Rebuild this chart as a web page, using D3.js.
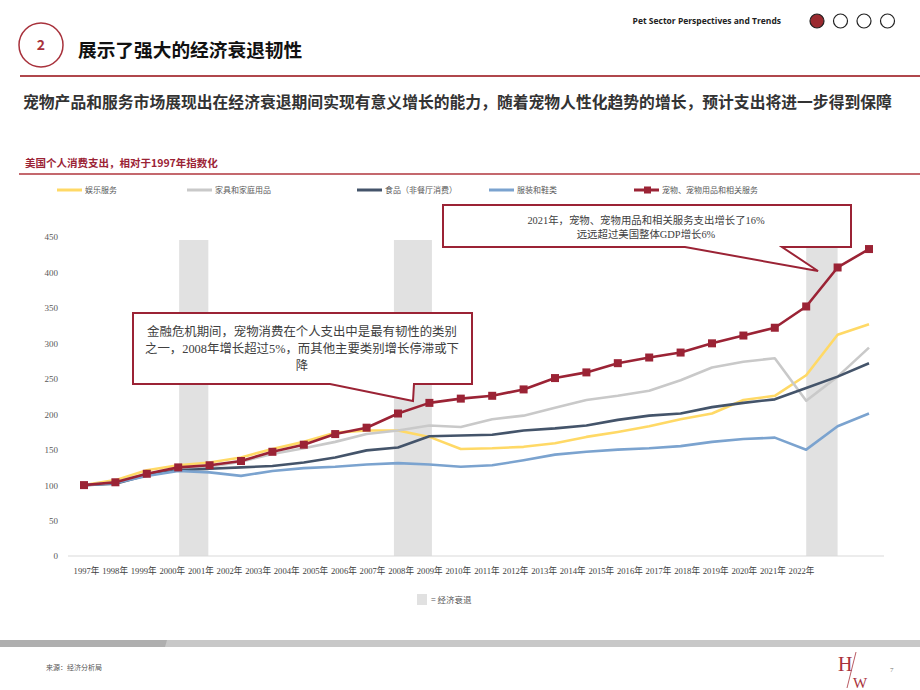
<!DOCTYPE html>
<html>
<head>
<meta charset="utf-8">
<script src="https://cdn.jsdelivr.net/npm/d3@7"></script>
<style>
  body { margin: 0; background: #fff; }
  svg { display: block; }
</style>
</head>
<body>
<div id="chart"></div>
<script>
var width = 920,
    height = 690;

// data, index 1997 = 100
var years = d3.range(1997, 2023);
var entertainment = [100,107,121,128,132,139,151,161,174,177,177,168,151,152,154,159,168,175,183,193,201,220,226,255,312,327];
var furnishings   = [100,104,116,122,126,133,144,152,161,172,177,184,182,193,198,209,220,226,233,248,266,274,279,219,253,294];
var food          = [100,102,114,121,123,125,127,132,139,149,153,169,170,171,177,180,184,192,198,201,210,216,221,237,253,272];
var clothing      = [100,103,113,120,118,113,120,124,126,129,131,129,126,128,135,143,147,150,152,155,161,165,167,150,183,201];
var pet           = [100,104,116,125,128,134,147,157,172,181,201,216,222,226,235,251,259,272,280,287,300,311,322,352,407,433];

var seriesNames = ["娱乐服务", "家具和家庭用品", "食品（非餐厅消费）", "服装和鞋类", "宠物、宠物用品和相关服务"];
var seriesColors = ["#FFD966", "#C9C9C9", "#44546A", "#7BA3CF", "#9B2335"];
var seriesValues = [entertainment, furnishings, food, clothing, pet];

var recessionStart = [2000.03, 2006.87, 2020.0];
var recessionEnd   = [2000.96, 2008.08, 2021.0];

var yTicks = [0, 50, 100, 150, 200, 250, 300, 350, 400, 450];

var red = "#9B2335";
var serif = "'Liberation Serif', 'Noto Sans CJK SC', serif";
var sans = "'Noto Sans CJK SC', 'Noto Sans', sans-serif";

var svg = d3.select("#chart")
  .append("svg")
    .attr("width", width)
    .attr("height", height);

// ---- header ----
svg.append("circle")
  .attr("cx", 41).attr("cy", 45).attr("r", 22)
  .attr("fill", "none").attr("stroke", "#A8323C").attr("stroke-width", 1.5);
svg.append("text")
  .attr("x", 41).attr("y", 50)
  .attr("text-anchor", "middle")
  .style("font-family", sans).style("font-weight", "bold").style("font-size", "14px")
  .attr("fill", "#A8323C")
  .text("2");
svg.append("text")
  .attr("x", 78).attr("y", 57)
  .style("font-family", sans).style("font-weight", "bold").style("font-size", "18.7px")
  .attr("fill", "#111")
  .text("展示了强大的经济衰退韧性");
svg.append("line")
  .attr("x1", 20).attr("x2", 920).attr("y1", 76).attr("y2", 76)
  .attr("stroke", "#B0474C").attr("stroke-width", 2);

svg.append("text")
  .attr("x", 781).attr("y", 24)
  .attr("text-anchor", "end")
  .style("font-family", "'Open Sans', 'Noto Sans', sans-serif").style("font-weight", "bold").style("font-size", "8.5px")
  .attr("fill", "#222")
  .text("Pet Sector Perspectives and Trends");
svg.selectAll("circle.page")
  .data([0, 1, 2, 3])
  .enter()
  .append("circle")
    .attr("class", "page")
    .attr("cx", function(d) { return 817 + d * 23.5; })
    .attr("cy", 21)
    .attr("r", 7)
    .attr("fill", function(d) { return d === 0 ? "#9B2A30" : "#fff"; })
    .attr("stroke", "#222")
    .attr("stroke-width", 1.2);

svg.append("text")
  .attr("x", 23).attr("y", 108)
  .style("font-family", sans).style("font-weight", "bold").style("font-size", "15.8px")
  .attr("fill", "#333")
  .text("宠物产品和服务市场展现出在经济衰退期间实现有意义增长的能力，随着宠物人性化趋势的增长，预计支出将进一步得到保障");

// chart title
svg.append("text")
  .attr("x", 25).attr("y", 167)
  .style("font-family", sans).style("font-weight", "bold").style("font-size", "10.5px")
  .attr("fill", red)
  .text("美国个人消费支出，相对于1997年指数化");
svg.append("line")
  .attr("x1", 19).attr("x2", 920).attr("y1", 174).attr("y2", 174)
  .attr("stroke", "#B0363D").attr("stroke-width", 1.5);

// ---- legend ----
var legendX = [57, 187, 357, 489, 634];
var legend = svg.selectAll("g.legend")
  .data(seriesNames)
  .enter()
  .append("g")
    .attr("class", "legend")
    .attr("transform", function(d, i) { return "translate(" + legendX[i] + ",190)"; });
legend.append("line")
  .attr("x1", 0).attr("x2", 25)
  .attr("stroke", function(d, i) { return seriesColors[i]; })
  .attr("stroke-width", 3);
legend.filter(function(d, i) { return i === 4; })
  .append("rect")
    .attr("x", 10).attr("y", -3.5).attr("width", 7).attr("height", 7)
    .attr("fill", red);
legend.append("text")
  .attr("x", 28).attr("y", 3)
  .style("font-family", sans).style("font-size", "8px")
  .attr("fill", "#595959")
  .text(function(d) { return d; });

// ---- scales ----
var x = d3.scaleLinear().domain([1997, 2022]).range([84, 869]);
var y = d3.scaleLinear().domain([0, 450]).range([556, 237]);
// tick labels sit on their own, tighter spacing as in the source slide
var xLabel = d3.scalePoint().domain(years).range([86, 801]);

// recession bands
svg.selectAll("rect.recession")
  .data(recessionStart)
  .enter()
  .append("rect")
    .attr("class", "recession")
    .attr("x", function(d) { return x(d); })
    .attr("width", function(d, i) { return x(recessionEnd[i]) - x(d); })
    .attr("y", 240)
    .attr("height", y(0) - 240)
    .attr("fill", "#E1E1E1");

// baseline
svg.append("line")
  .attr("x1", 68).attr("x2", 884)
  .attr("y1", y(0)).attr("y2", y(0))
  .attr("stroke", "#D9D9D9").attr("stroke-width", 1);

// y axis
var yAxis = svg.append("g")
  .attr("transform", "translate(60,0)")
  .call(d3.axisLeft(y).tickValues(yTicks).tickSize(0).tickPadding(2));
yAxis.select(".domain").remove();
yAxis.selectAll("text")
  .style("font-family", serif).style("font-size", "9px")
  .attr("fill", "#595959");

// x axis labels
var xAxis = svg.append("g")
  .attr("transform", "translate(0,568)")
  .call(d3.axisBottom(xLabel).tickSize(0).tickPadding(0).tickFormat(function(d) { return d + "年"; }));
xAxis.select(".domain").remove();
xAxis.selectAll("text")
  .style("font-family", serif).style("font-size", "8.6px")
  .attr("fill", "#404040");

// ---- lines ----
var line = d3.line()
  .x(function(d, i) { return x(years[i]); })
  .y(function(d) { return y(d); });

svg.selectAll("path.series")
  .data(seriesValues)
  .enter()
  .append("path")
    .attr("class", "series")
    .attr("d", line)
    .attr("fill", "none")
    .attr("stroke", function(d, i) { return seriesColors[i]; })
    .attr("stroke-width", 2.6)
    .attr("stroke-linejoin", "round");

svg.selectAll("rect.marker")
  .data(pet)
  .enter()
  .append("rect")
    .attr("class", "marker")
    .attr("x", function(d, i) { return x(years[i]) - 4; })
    .attr("y", function(d) { return y(d) - 4; })
    .attr("width", 8).attr("height", 8)
    .attr("fill", red);

// ---- callouts ----
svg.append("path")
  .attr("d", "M133,313 H472 V384 H414 L413,401 L330,384 H133 Z")
  .attr("fill", "#fff").attr("stroke", red).attr("stroke-width", 2);
var note1 = ["金融危机期间，宠物消费在个人支出中是最有韧性的类别",
             "之一，2008年增长超过5%，而其他主要类别增长停滞或下",
             "降"];
svg.selectAll("text.note1")
  .data(note1)
  .enter()
  .append("text")
    .attr("class", "note1")
    .attr("x", 302)
    .attr("y", function(d, i) { return 336 + i * 17; })
    .attr("text-anchor", "middle")
    .style("font-family", serif).style("font-size", "12.4px")
    .attr("fill", "#404040")
    .text(function(d) { return d; });

svg.append("path")
  .attr("d", "M443,205 H851 V247 H782 L818,271 L685,247 H443 Z")
  .attr("fill", "#fff").attr("stroke", red).attr("stroke-width", 2);
var note2 = ["2021年，宠物、宠物用品和相关服务支出增长了16%",
             "远远超过美国整体GDP增长6%"];
svg.selectAll("text.note2")
  .data(note2)
  .enter()
  .append("text")
    .attr("class", "note2")
    .attr("x", 646)
    .attr("y", function(d, i) { return 224 + i * 14; })
    .attr("text-anchor", "middle")
    .style("font-family", serif).style("font-size", "10.4px")
    .attr("fill", "#404040")
    .text(function(d) { return d; });

// recession key
svg.append("rect")
  .attr("x", 417).attr("y", 594).attr("width", 10).attr("height", 11)
  .attr("fill", "#E1E1E1");
svg.append("text")
  .attr("x", 431).attr("y", 603)
  .style("font-family", sans).style("font-size", "8.5px")
  .attr("fill", "#595959")
  .text("= 经济衰退");

// ---- footer ----
svg.append("rect")
  .attr("x", 0).attr("y", 640).attr("width", 920).attr("height", 7)
  .attr("fill", "#C8C8C8");
svg.append("path")
  .attr("d", "M0,640 H167 L165,647 H0 Z")
  .attr("fill", "#AFAFAF");
svg.append("text")
  .attr("x", 46).attr("y", 670)
  .style("font-family", sans).style("font-size", "7px")
  .attr("fill", "#555")
  .text("来源：经济分析局");

// logo
svg.append("text")
  .attr("x", 838).attr("y", 671)
  .style("font-family", serif).style("font-size", "20px")
  .attr("fill", "#A8323C")
  .text("H");
svg.append("text")
  .attr("x", 853).attr("y", 688)
  .style("font-family", serif).style("font-size", "15px")
  .attr("fill", "#A8323C")
  .text("W");
svg.append("line")
  .attr("x1", 856).attr("y1", 652).attr("x2", 847).attr("y2", 688)
  .attr("stroke", "#A8323C").attr("stroke-width", 0.8);
svg.append("text")
  .attr("x", 890).attr("y", 672)
  .style("font-family", serif).style("font-size", "7px")
  .attr("fill", "#777")
  .text("7");
</script>
</body>
</html>
